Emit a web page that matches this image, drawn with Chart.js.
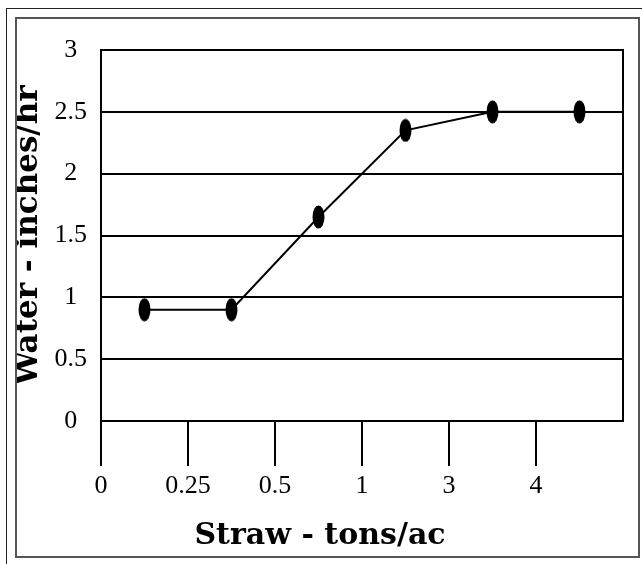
<!DOCTYPE html>
<html>
<head>
<meta charset="utf-8">
<script src="https://cdn.jsdelivr.net/npm/chart.js@4/dist/chart.umd.min.js"></script>
<style>
  html, body { margin: 0; padding: 0; background: #fff; }
  body { width: 642px; height: 564px; position: relative; overflow: hidden; }
  #outer { position: absolute; left: 6px; top: 8px; right: -10px; bottom: -10px; border: 1px solid #222; }
  #frame { position: absolute; left: 15px; top: 17px; width: 621px; height: 537px; border: 2px solid #555; }
  #frame canvas { display: block; }
</style>
</head>
<body>
<div id="outer"></div>
<div id="frame"><canvas id="strawChart"></canvas></div>
<script>
// straw mulch vs. water intake
const strawLabels = ['0', '0.25', '0.5', '1', '3', '4'];
const waterRates = [0.9, 0.9, 1.65, 2.35, 2.5, 2.5];
const yTickLabels = ['0', '0.5', '1', '1.5', '2', '2.5', '3'];

// oval marker like the original
function makeDot() {
    const c = document.createElement('canvas');
    c.width = 13;
    c.height = 24;
    const g = c.getContext('2d');
    g.fillStyle = '#000';
    g.beginPath();
    g.ellipse(6.5, 12, 6, 11.5, 0, 0, Math.PI * 2);
    g.fill();
    return c;
}

const serif = '"Liberation Serif", "Times New Roman", serif';
const boldSerif = '"DejaVu Serif", serif';

new Chart(document.getElementById('strawChart').getContext('2d'), {
    type: 'line',
    data: {
        labels: strawLabels,
        datasets: [{
            data: waterRates,
            borderColor: '#000',
            borderWidth: 2,
            tension: 0,
            pointStyle: makeDot(),
            yAxisID: 'y'
        }]
    },
    options: {
        responsive: true,
        maintainAspectRatio: false,
        animation: false,
        layout: { padding: { top: 31, right: 15, left: 0, bottom: 0 } },
        plugins: {
            legend: { display: false },
            tooltip: { enabled: false },
            title: {
                display: true,
                position: 'bottom',
                text: 'Straw - tons/ac',
                color: '#000',
                font: { family: boldSerif, size: 30, weight: 'bold' },
                padding: { top: 13, bottom: 2 }
            }
        },
        scales: {
            x: {
                type: 'category',
                offset: true,
                grid: {
                    offset: true,
                    drawOnChartArea: false,
                    drawTicks: true,
                    tickLength: 45,
                    lineWidth: 2,
                    color: (ctx) => ctx.type === 'tick' ? '#000' : 'rgba(0,0,0,0)'
                },
                border: { display: true, color: '#000', width: 2 },
                ticks: {
                    color: '#000',
                    font: { family: serif, size: 26 },
                    padding: 5,
                    labelOffset: -43.5,
                    maxRotation: 0
                },
                afterFit: (scale) => { scale.height = 84; }
            },
            y: {
                min: 0,
                max: 3,
                grid: { color: '#000', lineWidth: 2, drawTicks: false },
                border: { display: true, color: '#000', width: 2 },
                ticks: {
                    stepSize: 0.5,
                    color: '#000',
                    font: { family: serif, size: 26 },
                    padding: 14,
                    crossAlign: 'center',
                    callback: (value, index) => yTickLabels[index]
                },
                title: {
                    display: true,
                    text: 'Water - inches/hr',
                    color: '#000',
                    font: { family: boldSerif, size: 31, weight: 'bold', lineHeight: 0.75 },
                    padding: 0
                },
                afterFit: (scale) => { scale.width = 84; }
            },
            yRight: {
                position: 'right',
                min: 0,
                max: 3,
                grid: { display: false },
                ticks: { display: false },
                border: { display: true, color: '#000', width: 2 },
                afterFit: (scale) => { scale.width = 0; }
            }
        }
    }
});
</script>
</body>
</html>
